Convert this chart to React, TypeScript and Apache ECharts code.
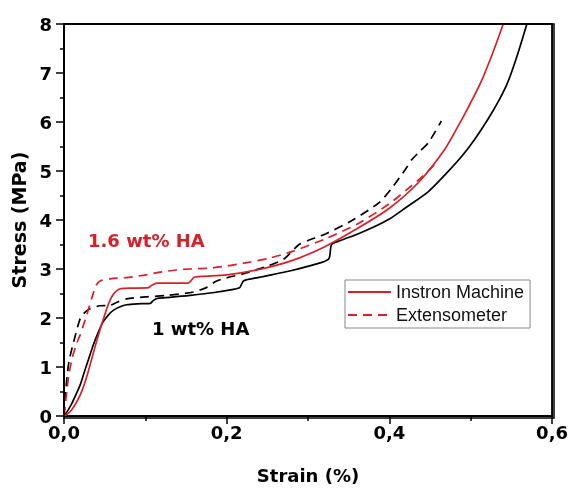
import React, { useEffect, useRef } from "react";
import * as echarts from "echarts";

// Strain (%) / Stress (MPa)
const redInstron: number[][] = [
  [0, 0], [0.005, 0.05], [0.01, 0.14], [0.015, 0.27], [0.02, 0.43], [0.025, 0.65], [0.03, 0.92],
  [0.035, 1.22], [0.04, 1.52], [0.045, 1.8], [0.05, 2.06], [0.055, 2.3], [0.06, 2.47], [0.065, 2.56],
  [0.07, 2.6], [0.085, 2.61], [0.104, 2.62], [0.108, 2.67], [0.114, 2.71], [0.135, 2.71], [0.152, 2.71],
  [0.156, 2.76], [0.16, 2.83], [0.17, 2.85], [0.2, 2.88], [0.24, 2.99], [0.28, 3.17], [0.32, 3.45],
  [0.36, 3.82], [0.4, 4.24], [0.436, 4.77], [0.468, 5.44], [0.484, 5.9], [0.497, 6.3], [0.513, 6.83],
  [0.528, 7.45], [0.54, 8.0],
];
const redExtenso: number[][] = [
  [0, 0], [0.002, 0.3], [0.004, 0.58], [0.006, 0.84], [0.01, 1.18], [0.016, 1.5], [0.02, 1.66],
  [0.024, 1.86], [0.028, 2.06], [0.034, 2.4], [0.04, 2.68], [0.045, 2.76], [0.057, 2.8], [0.08, 2.83],
  [0.097, 2.87], [0.12, 2.94], [0.138, 2.98], [0.155, 3.0], [0.18, 3.02], [0.2, 3.06], [0.228, 3.14],
  [0.252, 3.22], [0.281, 3.36], [0.322, 3.62], [0.362, 3.93], [0.399, 4.32], [0.42, 4.6], [0.44, 4.88],
  [0.455, 5.12],
];
const blackInstron: number[][] = [
  [0, 0], [0.005, 0.12], [0.01, 0.27], [0.015, 0.45], [0.02, 0.64], [0.025, 0.9], [0.03, 1.15],
  [0.036, 1.45], [0.042, 1.7], [0.048, 1.92], [0.055, 2.07], [0.061, 2.16], [0.069, 2.23], [0.077, 2.27],
  [0.09, 2.29], [0.106, 2.3], [0.11, 2.36], [0.115, 2.4], [0.13, 2.42], [0.155, 2.46], [0.185, 2.52],
  [0.21, 2.59], [0.216, 2.62], [0.221, 2.76], [0.24, 2.83], [0.28, 2.97], [0.318, 3.14], [0.326, 3.22],
  [0.329, 3.5], [0.34, 3.58], [0.362, 3.72], [0.38, 3.85], [0.4, 4.02], [0.42, 4.25], [0.448, 4.58],
  [0.47, 4.95], [0.489, 5.3], [0.505, 5.65], [0.521, 6.05], [0.535, 6.45], [0.546, 6.83], [0.558, 7.4],
  [0.569, 8.0],
];
const blackExtenso: number[][] = [
  [0, 0], [0.002, 0.5], [0.006, 1.1], [0.012, 1.52], [0.02, 1.99], [0.026, 2.12], [0.032, 2.19],
  [0.044, 2.25], [0.057, 2.26], [0.065, 2.32], [0.077, 2.39], [0.1, 2.43], [0.126, 2.46], [0.159, 2.53],
  [0.175, 2.62], [0.187, 2.75], [0.2, 2.82], [0.22, 2.9], [0.252, 3.07], [0.27, 3.2], [0.289, 3.5],
  [0.3, 3.58], [0.322, 3.72], [0.354, 3.99], [0.387, 4.35], [0.403, 4.65], [0.42, 5.04], [0.428, 5.24],
  [0.438, 5.41], [0.448, 5.58], [0.464, 6.02],
];

const legendNames = ["Instron Machine", "Extensometer"];
const annotations = ["1.6 wt% HA", "1 wt% HA"];
const xAxisTitle = "Strain (%)";
const yAxisTitle = "Stress (MPa)";
const xRange = [0, 0.6];
const yRange = [0, 8];
// top and right edges of the plot box, in data units
const frameEdges: number[][] = [[xRange[0], yRange[1]], [xRange[1], yRange[1]], [xRange[1], yRange[0]]];

const RED = "#d7202a";
const BOLD_FAMILY = "DejaVu Sans";
const W = 571, H = 489;
const GRID = { left: 64, right: 17, top: 24, bottom: 71 };

export default function App() {
  const ref = useRef<HTMLDivElement>(null);
  useEffect(() => {
    if (!ref.current) return;
    const chart = echarts.init(ref.current, undefined, { renderer: "svg" });
    const lineBase = (name: string, data: number[][], color: string, dashed: boolean) => ({
      name,
      type: "line",
      data,
      symbol: "none",
      smooth: 0.25,
      lineStyle: { color, width: 1.7, type: dashed ? [9, 6] : "solid" },
      itemStyle: { color },
      z: color === RED ? 3 : 2,
    });
    chart.setOption({
      animation: false,
      grid: { ...GRID, show: true, borderColor: "#000", borderWidth: 1.5 },
      legend: {
        data: legendNames,
        orient: "vertical",
        left: 345,
        top: 280,
        padding: [3, 6, 4, 2],
        itemGap: 5,
        itemWidth: 43,
        itemHeight: 14,
        borderColor: "#888",
        borderWidth: 1,
        itemStyle: { color: "transparent", borderWidth: 0, opacity: 0 },
        textStyle: { fontFamily: "Liberation Sans", fontSize: 18, color: "#111", lineHeight: 18 },
      },
      xAxis: {
        type: "value",
        min: xRange[0], max: xRange[1], interval: 0.2,
        name: xAxisTitle,
        nameLocation: "middle",
        nameGap: 50,
        nameTextStyle: { fontFamily: BOLD_FAMILY, fontWeight: "bold", fontSize: 18, color: "#000" },
        axisLine: { show: true, onZero: false, lineStyle: { color: "#000", width: 2 } },
        axisTick: { show: true, inside: false, length: 8, lineStyle: { color: "#000", width: 1.5 } },
        minorTick: { show: true, splitNumber: 2, length: 5, lineStyle: { color: "#000", width: 1.5 } },
        axisLabel: {
          margin: 7, fontFamily: BOLD_FAMILY, fontWeight: "bold", fontSize: 18, color: "#000",
          formatter: (v: number) => v.toFixed(1).replace(".", ","),
        },
        splitLine: { show: false },
      },
      yAxis: {
        type: "value",
        min: yRange[0], max: yRange[1], interval: 1,
        name: yAxisTitle,
        nameLocation: "middle",
        nameGap: 26,
        nameTextStyle: { fontFamily: BOLD_FAMILY, fontWeight: "bold", fontSize: 19, color: "#000" },
        axisLine: { show: true, onZero: false, lineStyle: { color: "#000", width: 2 } },
        axisTick: { show: true, inside: false, length: 8, lineStyle: { color: "#000", width: 1.5 } },
        minorTick: { show: true, splitNumber: 2, length: 4, lineStyle: { color: "#000", width: 1.5 } },
        axisLabel: { margin: 12, fontFamily: BOLD_FAMILY, fontWeight: "bold", fontSize: 18, color: "#000" },
        splitLine: { show: false },
      },
      graphic: [
        {
          type: "rect", silent: true, z: 10,
          shape: {
            x: GRID.left, y: GRID.top,
            width: W - GRID.left - GRID.right, height: H - GRID.top - GRID.bottom,
          },
          style: { fill: "transparent", stroke: "#000", lineWidth: 1.5 },
        },
        {
          type: "text", x: 88, y: 240, silent: true,
          style: {
            text: annotations[0], fill: RED, fontFamily: BOLD_FAMILY, fontWeight: "bold",
            fontSize: 18, verticalAlign: "middle",
          },
        },
        {
          type: "text", x: 152, y: 328, silent: true,
          style: {
            text: annotations[1], fill: "#000", fontFamily: BOLD_FAMILY, fontWeight: "bold",
            fontSize: 18, verticalAlign: "middle",
          },
        },
      ],
      series: [
        lineBase("1 wt% HA Instron", blackInstron, "#000", false),
        lineBase("1 wt% HA Extensometer", blackExtenso, "#000", true),
        lineBase(legendNames[0], redInstron, RED, false),
        lineBase(legendNames[1], redExtenso, RED, true),
        {
          name: "frame",
          type: "line",
          data: frameEdges,
          symbol: "none",
          clip: false,
          silent: true,
          z: 5,
          lineStyle: { color: "#000", width: 1.5, type: "solid" },
        },
      ],
    });
    return () => chart.dispose();
  }, []);
  return <div ref={ref} style={{ position: "fixed", left: 0, top: 0, width: W, height: H }} />;
}
